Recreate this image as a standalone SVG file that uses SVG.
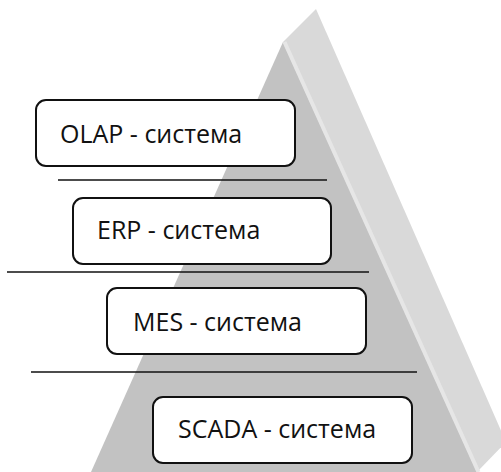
<svg xmlns="http://www.w3.org/2000/svg" width="501" height="472" viewBox="0 0 501 472">
  <style>
    .box { fill: #ffffff; stroke: #111111; stroke-width: 2; }
    .label { font-family: "Open Sans", "Liberation Sans", sans-serif; font-size: 25px; fill: #111111; }
    .sep { stroke: #111111; stroke-width: 1.6; }
  </style>

  <!-- pyramid body -->
  <g id="pyramid">
    <!-- side face -->
    <polygon points="283,42 316,9 506,442 477,472" fill="#d9d9d9"/>
    <!-- front face -->
    <polygon points="283,42 91,472 477,472" fill="#c2c2c2"/>
    <!-- ridge highlight -->
    <line x1="284.5" y1="42" x2="478.5" y2="472" stroke="#e6e6e6" stroke-width="4"/>
  </g>

  <!-- separator lines between levels -->
  <g id="connectors">
    <line class="sep" x1="58" y1="180" x2="327" y2="180"/>
    <line class="sep" x1="7" y1="272" x2="369" y2="272"/>
    <line class="sep" x1="31" y1="372" x2="417" y2="372"/>
  </g>

  <g id="olap">
    <rect class="box" x="36" y="100" width="259" height="66" rx="10"/>
    <text class="label" x="60" y="143">OLAP - система</text>
  </g>

  <g id="erp">
    <rect class="box" x="73" y="198" width="258" height="66" rx="10"/>
    <text class="label" x="97" y="239">ERP - система</text>
  </g>

  <g id="mes">
    <rect class="box" x="107" y="288" width="259" height="66" rx="10"/>
    <text class="label" x="133" y="331">MES - система</text>
  </g>

  <g id="scada">
    <rect class="box" x="153" y="397" width="259" height="66" rx="10"/>
    <text class="label" x="178" y="438">SCADA - система</text>
  </g>
</svg>
